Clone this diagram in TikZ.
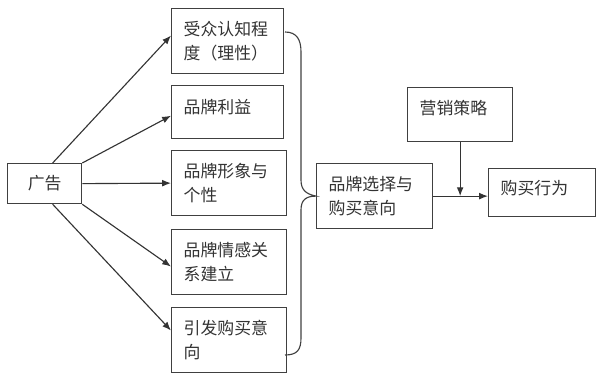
\documentclass[tikz,border=0pt]{standalone}
\usepackage{fontspec}
\setmainfont{Noto Sans CJK SC}
\usetikzlibrary{arrows.meta,positioning}

\begin{document}
\begin{tikzpicture}[
x=0.025cm,y=-0.025cm,
box/.style={draw=black!75,line width=0.9pt,anchor=north west,align=left,inner xsep=0.3cm,inner ysep=0pt,font=\fontsize{12pt}{17pt}\selectfont,text=black!80},
t/.style={-{Latex[length=2.2mm,width=1.7mm]},draw=black!80,line width=0.8pt}
]
\useasboundingbox (0,0) rectangle (600,380);
\node[box,align=center,minimum width=1.85cm,minimum height=1cm] (ad) at (7,163) {广告};
\node[box,text width=2.2cm,minimum height=1.625cm] (cog) at (171,8) {受众认知程\\度（理性）};
\node[box,text width=2.2cm,minimum height=1.325cm,text depth=0.3cm] (benefit) at (171,85) {品牌利益};
\node[box,text width=2.275cm,minimum height=1.625cm] (image) at (171,150) {品牌形象与\\个性};
\node[box,text width=2.275cm,minimum height=1.625cm] (emotion) at (171,229) {品牌情感关\\系建立};
\node[box,text width=2.275cm,minimum height=1.625cm] (intent) at (171,307) {引发购买意\\向};
\node[box,text width=2.3cm,minimum height=1.625cm] (choice) at (316,163) {品牌选择与\\购买意向};
\node[box,text width=2.025cm,minimum height=1.35cm,text depth=0.35cm] (mkt) at (407,87) {营销策略};
\node[box,text width=2.075cm,minimum height=1.2cm,text depth=0.28cm] (buy) at (488,168) {购买行为};

% 广告 -> five effects
\draw[t] ([xshift=0.2cm]ad.north) -- ([yshift=0.14cm]cog.west);
\draw[t] (ad.north east) -- ([yshift=-0.09cm]benefit.west);
\draw[t] (ad.east) -- (image.west);
\draw[t] (ad.south east) -- ([yshift=-0.11cm]emotion.west);
\draw[t] ([xshift=0.2cm]ad.south) -- ([yshift=0.24cm]intent.west);

% brace gathering the effects
\coordinate (bt) at (285,32);
\coordinate (bb) at (285,355);
\draw[draw=black!75,line width=0.8pt] (bt) .. controls (297,32) and (301,40) .. (301,52) -- (301,180)
  .. controls (301,190) and (306,194) .. (choice.west)
  .. controls (306,196) and (301,200) .. (301,210) -- (301,338)
  .. controls (301,350) and (297,355) .. (bb);

\draw[t] (choice.east) -- (choice.east -| buy.west);
\draw[t] (mkt.south) -- (mkt.south |- choice.east);
\end{tikzpicture}
\end{document}
